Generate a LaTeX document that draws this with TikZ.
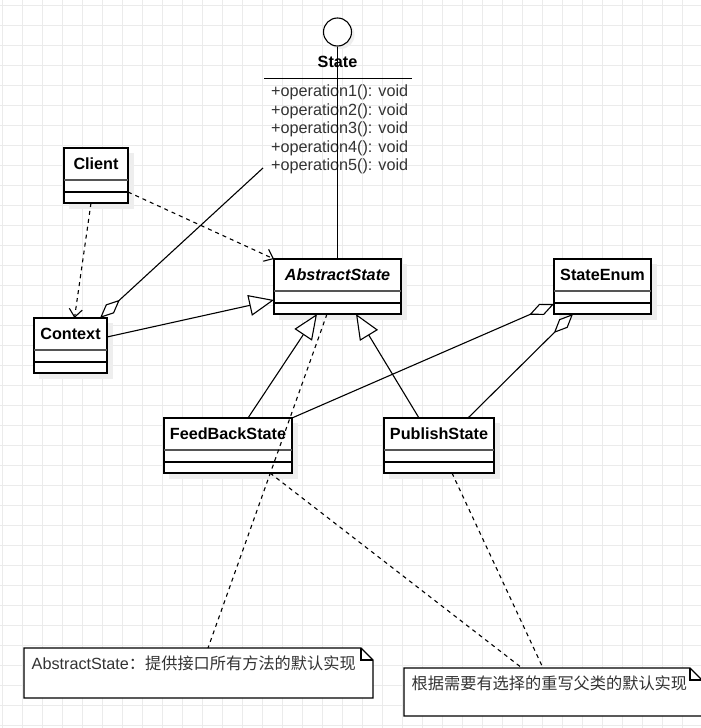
\documentclass[tikz,border=0pt]{standalone}
\usepackage{fontspec}
\setmainfont{Liberation Sans}
\newfontfamily\cjk{Noto Sans CJK SC}
\usetikzlibrary{arrows.meta}
\definecolor{gridc}{HTML}{EBEBEB}
\definecolor{shadc}{HTML}{EEEEEE}
\definecolor{txtc}{HTML}{333333}
\definecolor{divc}{HTML}{555555}
\tikzset{
  conn/.style={line width=1.1pt},
  title/.style={font=\bfseries\fontsize{16.2}{19}\selectfont, inner sep=0pt},
  optext/.style={font=\fontsize{16.2}{19}\selectfont, text=txtc, inner sep=0pt, anchor=base west},
  notetext/.style={font=\fontsize{16.2}{19}\selectfont, text=txtc, inner sep=0pt},
  dep/.style={conn, dash pattern=on 4pt off 4pt, -{Straight Barb[length=8pt,width=13pt]}},
  gen/.style={conn, -{Triangle[open, length=25pt, width=21pt, fill=white]}},
  agg/.style={conn, {Diamond[open, length=27pt, width=12pt, fill=white]}-},
  noteline/.style={conn, dash pattern=on 4pt off 4pt},
}
\newcommand\umlbox[5]{%
  \fill[shadc] (#2+5,#3+5) rectangle (#2+#4+6,#3+61);
  \node[draw, line width=1.1pt, fill=white, minimum width=#4pt, minimum height=55pt, inner sep=0pt, outer sep=0pt, anchor=north west] (#1) at (#2,#3) {};
  \draw[divc, line width=1.6pt] ([yshift=-32pt]#1.north west) -- ([yshift=-32pt]#1.north east);
  \draw[line width=1.1pt] ([yshift=-44pt]#1.north west) -- ([yshift=-44pt]#1.north east);
  \node[title] (#1-t) at ([yshift=-15.5pt]#1.north) {#5};
}
\newcommand\umlnote[6]{%
  \node[minimum width=#4pt, minimum height=#5pt, inner sep=0pt, outer sep=0pt, anchor=north west] (#1) at (#2,#3) {};
  \draw[conn, fill=white] (#1.north west) -- ([xshift=-12pt]#1.north east) -- ([yshift=-12pt]#1.north east) -- (#1.south east) -- (#1.south west) -- cycle;
  \draw[conn] ([xshift=-12pt]#1.north east) -- ([xshift=-12pt,yshift=-12pt]#1.north east) -- ([yshift=-12pt]#1.north east);
  \node[notetext, anchor=west] (#1-t) at ([xshift=7.5pt,yshift=-15.5pt]#1.north west) {#6};
}
\begin{document}
\begin{tikzpicture}[x=1pt,y=-1pt]
\useasboundingbox (0,0) rectangle (701,728);
\fill[white] (0,0) rectangle (701,728);
% grid
\foreach \x in {2,22,...,702} \draw[gridc, line width=1pt] (\x,0) -- (\x,728);
\foreach \y in {5,25,...,725} \draw[gridc, line width=1pt] (0,\y) -- (701,\y);

% interface State (lollipop)
\fill[shadc] (340.5,35) circle (14pt);
\node[circle, draw, line width=1.1pt, fill=white, minimum size=28pt, inner sep=0pt] (lol) at (337.5,32) {};
\node[title] (statename) at (337.5,62) {State};
\coordinate (sl) at (264,78);
\coordinate (sr) at (412,78);
\draw[line width=1pt] (sl) -- (sr);
\node[optext] (op1) at (271,96.5) {+operation1(): void};
\node[optext] (op2) at (271,115) {+operation2(): void};
\node[optext] (op3) at (271,133.5) {+operation3(): void};
\node[optext] (op4) at (271,152) {+operation4(): void};
\node[optext] (op5) at (271,170.5) {+operation5(): void};
\coordinate (opend) at (263,168);

% classes
\umlbox{client}{64}{148}{64}{Client}
\umlbox{context}{34}{318}{73}{Context}
\umlbox{abs}{274}{259}{127}{\itshape AbstractState}
\umlbox{senum}{554}{259}{97}{StateEnum}
\umlbox{fb}{164}{418}{128}{FeedBackState}
\umlbox{pub}{384}{418}{110}{PublishState}

% notes
\umlnote{n1}{24}{648}{349}{50}{AbstractState{\cjk ：提供接口所有方法的默认实现}}
\umlnote{n2}{404}{668}{298}{48}{{\cjk 根据需要有选择的重写父类的默认实现}}

% connectors
\draw[conn] (lol.south) -- (abs.north);
\draw[dep] ([yshift=-44pt]client.north east) -- (abs.north west);
\draw[dep] ([xshift=-5pt]client.south) -- ([xshift=4pt]context.north);
\draw[agg] ([xshift=-7pt]context.north east) -- (opend);
\draw[gen] ([yshift=-19pt]context.north east) -- ([yshift=-41pt]abs.north west);
\draw[gen] ([xshift=84pt]fb.north west) -- ([xshift=43pt]abs.south west);
\draw[gen] ([xshift=35pt]pub.north west) -- ([xshift=82pt]abs.south west);
\draw[noteline] ([xshift=53pt]abs.south west) -- ([xshift=184pt]n1.north west);
\draw[agg] ([yshift=-45pt]senum.north west) -- (fb.north east);
\draw[agg] ([xshift=19pt]senum.south west) -- ([xshift=84pt]pub.north west);
\draw[noteline] ([xshift=106pt]fb.south west) -- ([xshift=118pt]n2.north west);
\draw[noteline] ([xshift=68pt]pub.south west) -- ([xshift=139pt]n2.north west);
\end{tikzpicture}
\end{document}
